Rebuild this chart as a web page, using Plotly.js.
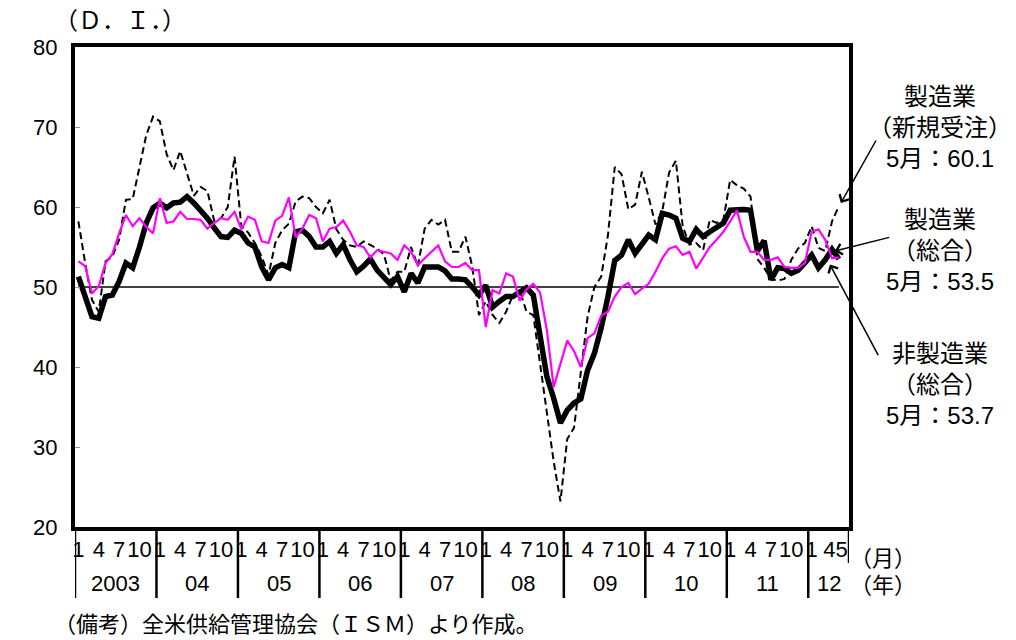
<!DOCTYPE html>
<html>
<head>
<meta charset="utf-8">
<script src="https://cdn.plot.ly/plotly-3.0.1.min.js"></script>
<style>
  html, body { margin: 0; padding: 0; background: #fff; }
  #chart { width: 1016px; height: 640px; }
</style>
</head>
<body>
<div id="chart"></div>
<script>
// ---- Data (monthly, Jan 2003 - May 2012) ----
const years = ['2003', '04', '05', '06', '07', '08', '09', '10', '11', '12'];
const monthTickLabels = ['1', '4', '7', '10'];
const lastYearMonthTicks = ['1', '4', '5'];

// 製造業（総合）
const mfgComposite = [
  51.3, 48.8, 46.3, 46.1, 48.8, 49.0, 50.7, 53.0, 52.4, 55.0, 58.0, 59.9,
  60.5, 59.9, 60.5, 60.6, 61.3, 60.5, 59.6, 58.6, 57.4, 56.3, 56.2, 57.1,
  56.7, 55.5, 55.0, 52.5, 50.9, 52.4, 52.8, 52.4, 56.9, 57.1, 56.3, 55.0,
  55.0, 55.7, 54.2, 55.3, 53.4, 51.9, 52.6, 53.5, 52.1, 51.3, 50.3, 51.3,
  49.4, 51.7, 50.5, 52.5, 52.5, 52.5, 52.0, 51.0, 51.0, 50.9, 50.0, 49.0,
  50.2, 47.5, 48.2, 48.8, 48.8, 49.4, 49.9, 49.0, 44.2, 38.8, 36.1, 33.0,
  34.6, 35.5, 36.0, 39.6, 41.7, 44.9, 48.8, 53.3, 54.0, 55.9, 54.2, 55.5,
  56.5, 55.9, 59.2, 59.0, 58.6, 56.1, 55.7, 57.2, 56.3, 56.9, 57.5, 58.0,
  59.6, 59.7, 59.7, 59.6, 54.5, 55.8, 50.9, 52.4, 52.3, 51.7, 52.1, 53.0,
  54.0, 52.4, 53.4, 54.7, 53.5
];

// 製造業（新規受注）
const mfgNewOrders = [
  58.2, 53.0, 48.4, 46.9, 53.2, 53.8, 55.9, 60.9, 61.0, 65.0, 69.0, 71.3,
  70.7, 66.6, 64.6, 67.0, 64.2, 61.4, 62.5, 62.0, 58.3, 58.6, 60.0, 66.3,
  57.6, 56.8, 55.5, 53.8, 51.5, 55.5, 57.1, 57.9, 60.7, 61.3, 61.1, 60.0,
  59.2, 60.9, 57.2, 55.9, 55.2, 55.0, 55.7, 55.2, 54.8, 54.1, 50.8, 51.9,
  51.9, 55.0, 52.6, 57.3, 58.4, 57.8, 58.4, 54.4, 54.4, 56.3, 52.6, 46.5,
  48.2, 46.5, 45.5, 46.9, 49.0, 49.6, 46.9, 46.5, 40.3, 34.5, 28.2, 23.2,
  31.0, 32.4, 39.5, 46.3, 50.0, 51.3, 56.5, 65.0, 64.1, 59.7, 60.3, 64.4,
  61.2, 57.8, 59.5, 64.3, 65.8, 57.6, 55.3, 55.5, 54.6, 58.4, 58.0, 58.4,
  63.4, 62.7, 62.3, 61.3, 53.5, 52.4, 51.0, 50.8, 51.0, 53.4, 54.8, 55.5,
  57.6, 54.9, 54.5, 58.2, 60.1
];

// 非製造業（総合）
const nonMfgComposite = [
  53.2, 52.6, 49.2, 50.1, 53.0, 54.1, 56.7, 59.0, 57.6, 58.6, 57.5, 56.7,
  61.1, 58.0, 58.2, 59.4, 58.5, 58.5, 58.4, 57.3, 58.0, 58.6, 58.4, 59.4,
  57.2, 58.8, 58.4, 55.7, 55.5, 58.3, 58.9, 61.2, 56.2, 57.3, 59.0, 58.6,
  55.7, 57.3, 57.5, 58.3, 56.9, 55.2, 55.0, 53.7, 54.6, 54.4, 54.2, 53.4,
  55.2, 54.4, 52.7, 53.6, 54.4, 55.2, 53.2, 52.5, 52.5, 53.0, 52.1, 52.1,
  45.0, 49.6, 49.2, 51.7, 51.3, 48.3, 49.7, 50.4, 49.3, 44.6, 37.5, 40.3,
  43.3, 42.0, 40.0, 43.6, 44.2, 46.4, 46.9, 48.8, 50.0, 50.5, 49.1, 49.8,
  50.4, 51.9, 53.6, 54.8, 55.1, 54.0, 54.4, 52.3, 53.6, 55.0, 55.9, 56.9,
  58.2, 59.6, 56.3, 54.4, 54.4, 53.4, 53.4, 53.7, 52.5, 52.4, 52.4, 53.0,
  56.9, 57.2, 55.9, 53.6, 53.7
];

const baseline = 50;
const latestLabels = [
  '製造業<br>（新規受注）<br>5月：60.1',
  '製造業<br>（総合）<br>5月：53.5',
  '非製造業<br>（総合）<br>5月：53.7'
];

// ---- Build ----
const n = mfgComposite.length;
const xs = Array.from({length: n}, (_, i) => i);
const tickvals = [], ticktext = [];
years.forEach((y, k) => {
  if (k === years.length - 1) {
    // months 4 and 5 of the last year sit next to each other: one combined label "45"
    const i1 = k * 12 + parseInt(lastYearMonthTicks[0], 10) - 1;
    const i4 = k * 12 + parseInt(lastYearMonthTicks[1], 10) - 1;
    const i5 = k * 12 + parseInt(lastYearMonthTicks[2], 10) - 1;
    tickvals.push(i1); ticktext.push(lastYearMonthTicks[0]);
    tickvals.push((i4 + i5) / 2); ticktext.push(lastYearMonthTicks[1] + lastYearMonthTicks[2]);
  } else {
    monthTickLabels.forEach(m => {
      tickvals.push(k * 12 + parseInt(m, 10) - 1); ticktext.push(m);
    });
  }
});

const FONT = '"Liberation Sans", Arial, "Noto Sans CJK JP", sans-serif';
const JFONT = '"Liberation Sans", Arial, "Noto Sans CJK JP", sans-serif';

const traces = [
  {x: xs, y: mfgNewOrders, type: 'scatter', mode: 'lines',
   line: {color: '#000', width: 2, dash: '7px,4px'}, hoverinfo: 'skip'},
  {x: xs, y: mfgComposite, type: 'scatter', mode: 'lines',
   line: {color: '#000', width: 5.5}, hoverinfo: 'skip'},
  {x: xs, y: nonMfgComposite, type: 'scatter', mode: 'lines',
   line: {color: '#FF00FF', width: 2.2}, hoverinfo: 'skip'}
];

const xMax = years.length * 12 - 6.5; // axis ends one month past the last data point
const shapes = [
  {type: 'line', xref: 'x', yref: 'y', x0: 0, x1: n - 1, y0: baseline, y1: baseline,
   line: {color: '#000', width: 1.5}, layer: 'below'}
];
for (let k = 0; k < years.length; k++) {
  shapes.push({type: 'line', xref: 'x', yref: 'paper', x0: k * 12 - 0.5, x1: k * 12 - 0.5,
    y0: 0, y1: -0.148, line: {color: '#000', width: 2.5}});
}
shapes.push({type: 'line', xref: 'x', yref: 'paper', x0: xMax, x1: xMax,
  y0: 0, y1: -0.075, line: {color: '#000', width: 2.5}});

const annotations = [];
years.forEach((y, k) => {
  const start = k * 12 - 0.5;
  const end = Math.min(start + 12, xMax);
  annotations.push({xref: 'x', yref: 'paper', x: (start + end) / 2, y: -0.117,
    text: y, showarrow: false, xanchor: 'center', yanchor: 'middle',
    font: {family: FONT, size: 22, color: '#000'}});
});
annotations.push(
  {xref: 'paper', yref: 'paper', x: 1.0445, y: -0.0646, text: '（月）', showarrow: false,
   xanchor: 'center', yanchor: 'middle', font: {family: JFONT, size: 22, color: '#000'}},
  {xref: 'paper', yref: 'paper', x: 1.0445, y: -0.121, text: '（年）', showarrow: false,
   xanchor: 'center', yanchor: 'middle', font: {family: JFONT, size: 22, color: '#000'}},
  {xref: 'paper', yref: 'paper', x: -0.03, y: 1.056, text: '（Ｄ．Ｉ．）', showarrow: false,
   xanchor: 'left', yanchor: 'middle', font: {family: JFONT, size: 24, color: '#000'}},
  {xref: 'paper', yref: 'paper', x: -0.03, y: -0.204,
   text: '（備考）全米供給管理協会（ＩＳＭ）より作成。', showarrow: false,
   xanchor: 'left', yanchor: 'middle', font: {family: JFONT, size: 22, color: '#000'}}
);
const labelY = [0.833, 0.577, 0.296];
latestLabels.forEach((t, i) => {
  annotations.push({xref: 'paper', yref: 'paper', x: 1.1176, y: labelY[i], text: t,
    showarrow: false, xanchor: 'center', yanchor: 'middle', align: 'center',
    font: {family: JFONT, size: 24, color: '#000'}});
});
// arrows pointing to the latest values
const last = n - 1;
annotations.push(
  {xref: 'x', yref: 'y', x: last + 0.3, y: mfgNewOrders[last] + 0.4, text: '', showarrow: true,
   ax: 36, ay: -64, arrowhead: 4, arrowsize: 1.4, arrowwidth: 1.5, arrowcolor: '#000'},
  {xref: 'x', yref: 'y', x: last - 0.6, y: mfgComposite[last] + 1.0, text: '', showarrow: true,
   ax: 56, ay: -14, arrowhead: 4, arrowsize: 1.4, arrowwidth: 1.5, arrowcolor: '#000'},
  {xref: 'x', yref: 'y', x: last - 1.3, y: nonMfgComposite[last] - 0.9, text: '', showarrow: true,
   ax: 49, ay: 92, arrowhead: 4, arrowsize: 1.4, arrowwidth: 1.5, arrowcolor: '#000'}
);

const layout = {
  width: 1016, height: 640,
  margin: {l: 75, r: 167, t: 47, b: 113},
  paper_bgcolor: '#fff', plot_bgcolor: '#fff',
  showlegend: false,
  xaxis: {range: [-0.5, xMax], tickmode: 'array', tickvals: tickvals, ticktext: ticktext,
    ticks: '', showgrid: false, zeroline: false, showline: true, mirror: true,
    linecolor: '#000', linewidth: 4, tickangle: 0,
    tickfont: {family: FONT, size: 22, color: '#000'}},
  yaxis: {range: [20, 80], tick0: 20, dtick: 10, showgrid: false, zeroline: false,
    ticks: 'inside', ticklen: 5, tickcolor: '#999', tickwidth: 1, ticklabelstandoff: 9,
    showline: true, mirror: true, linecolor: '#000', linewidth: 4,
    tickfont: {family: FONT, size: 22, color: '#000'}},
  shapes: shapes,
  annotations: annotations
};

Plotly.newPlot('chart', traces, layout, {staticPlot: true, displayModeBar: false});
</script>
</body>
</html>
